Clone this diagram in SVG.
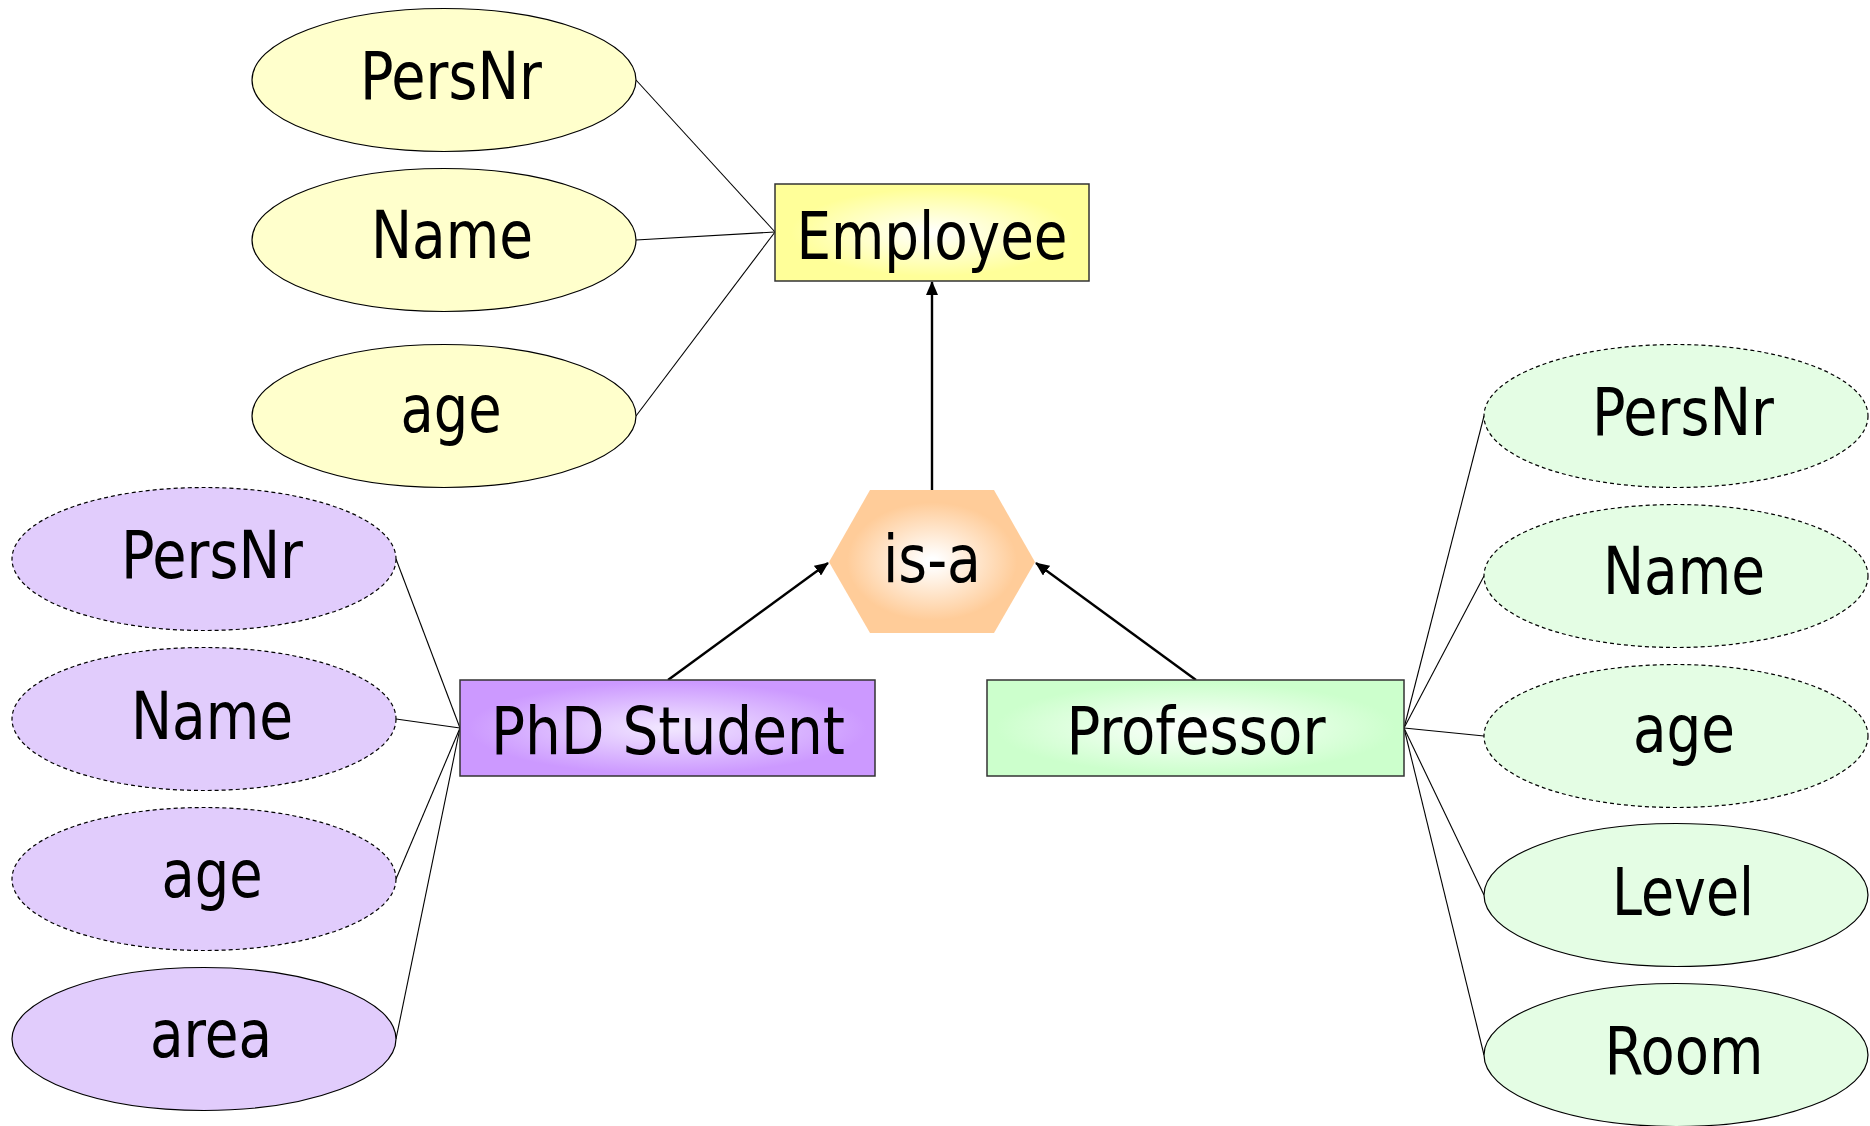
<svg xmlns="http://www.w3.org/2000/svg" width="1870" height="1126" viewBox="0 0 1870 1126">
<style>
text{font-family:"DejaVu Sans Condensed","DejaVu Sans",sans-serif;font-stretch:condensed;font-size:66px;fill:#000;text-anchor:middle}
.y{fill:#FFFFCC;stroke:#000;stroke-width:1.2}
.p{fill:#E1CCFC;stroke:#000;stroke-width:1.2}
.g{fill:#E4FDE4;stroke:#000;stroke-width:1.2}
.d{stroke-dasharray:4 3}
.ln{stroke:#000;stroke-width:1.1;fill:none}
.ar{stroke:#000;stroke-width:2.4;fill:none;marker-end:url(#ah)}
.box{stroke:#333;stroke-width:1.5}
</style>
<defs>
<marker id="ah" markerUnits="userSpaceOnUse" markerWidth="14" markerHeight="12" refX="13" refY="6" orient="auto" viewBox="0 0 14 12">
<path d="M0,0 L14,6 L0,12 z" fill="#000"/>
</marker>
<radialGradient id="gy" cx="50%" cy="50%" r="60%"><stop offset="0" stop-color="#FFFFFF"/><stop offset="0.75" stop-color="#FFFF99"/></radialGradient>
<radialGradient id="gp" cx="50%" cy="50%" r="60%"><stop offset="0" stop-color="#F2E8FF"/><stop offset="0.8" stop-color="#CC99FF"/></radialGradient>
<radialGradient id="gg" cx="50%" cy="50%" r="60%"><stop offset="0" stop-color="#FFFFFF"/><stop offset="0.8" stop-color="#CCFFCC"/></radialGradient>
<radialGradient id="go" cx="50%" cy="50%" r="55%"><stop offset="0.05" stop-color="#FFFFFF"/><stop offset="0.75" stop-color="#FFCC99"/></radialGradient>
</defs>

<g id="connectors">
<line class="ln" x1="636" y1="80" x2="775" y2="232"/>
<line class="ln" x1="636" y1="240" x2="775" y2="232"/>
<line class="ln" x1="636" y1="416" x2="775" y2="232"/>
<line class="ln" x1="396" y1="559" x2="460" y2="728"/>
<line class="ln" x1="396" y1="719" x2="460" y2="728"/>
<line class="ln" x1="396" y1="879" x2="460" y2="728"/>
<line class="ln" x1="396" y1="1039" x2="460" y2="728"/>
<line class="ln" x1="1404" y1="728" x2="1484" y2="416"/>
<line class="ln" x1="1404" y1="728" x2="1484" y2="576"/>
<line class="ln" x1="1404" y1="728" x2="1484" y2="736"/>
<line class="ln" x1="1404" y1="728" x2="1484" y2="895"/>
<line class="ln" x1="1404" y1="728" x2="1484" y2="1055"/>
<line class="ar" x1="932" y1="490" x2="932" y2="282"/>
<line class="ar" x1="668" y1="680" x2="828" y2="563"/>
<line class="ar" x1="1196" y1="680" x2="1036" y2="563"/>
</g>

<g id="emp-persnr"><ellipse class="y" cx="444" cy="80" rx="192" ry="71.5"/><text x="451" y="99" textLength="182" lengthAdjust="spacingAndGlyphs">PersNr</text></g>
<g id="emp-name"><ellipse class="y" cx="444" cy="240" rx="192" ry="71.5"/><text x="452" y="258" textLength="162" lengthAdjust="spacingAndGlyphs">Name</text></g>
<g id="emp-age"><ellipse class="y" cx="444" cy="416" rx="192" ry="71.5"/><text x="451" y="432" textLength="101" lengthAdjust="spacingAndGlyphs">age</text></g>
<g id="employee"><rect class="box" x="775" y="184" width="314" height="97" fill="url(#gy)"/><text x="932" y="259" textLength="271" lengthAdjust="spacingAndGlyphs">Employee</text></g>

<g id="isa"><polygon points="829,562 870,490 994,490 1035,562 994,633 870,633" fill="url(#go)"/><text x="932" y="582" textLength="98" lengthAdjust="spacingAndGlyphs">is-a</text></g>

<g id="phd-persnr"><ellipse class="p d" cx="204" cy="559" rx="192" ry="71.5"/><text x="212" y="578" textLength="182" lengthAdjust="spacingAndGlyphs">PersNr</text></g>
<g id="phd-name"><ellipse class="p d" cx="204" cy="719" rx="192" ry="71.5"/><text x="212" y="739" textLength="162" lengthAdjust="spacingAndGlyphs">Name</text></g>
<g id="phd-age"><ellipse class="p d" cx="204" cy="879" rx="192" ry="71.5"/><text x="212" y="897" textLength="101" lengthAdjust="spacingAndGlyphs">age</text></g>
<g id="phd-area"><ellipse class="p" cx="204" cy="1039" rx="192" ry="71.5"/><text x="211" y="1057" textLength="122" lengthAdjust="spacingAndGlyphs">area</text></g>
<g id="phd"><rect class="box" x="460" y="680" width="415" height="96" fill="url(#gp)"/><text x="668" y="754" textLength="354" lengthAdjust="spacingAndGlyphs">PhD Student</text></g>

<g id="professor"><rect class="box" x="987" y="680" width="417" height="96" fill="url(#gg)"/><text x="1196" y="754" textLength="259" lengthAdjust="spacingAndGlyphs">Professor</text></g>
<g id="prof-persnr"><ellipse class="g d" cx="1676" cy="416" rx="192" ry="71.5"/><text x="1683" y="435" textLength="182" lengthAdjust="spacingAndGlyphs">PersNr</text></g>
<g id="prof-name"><ellipse class="g d" cx="1676" cy="576" rx="192" ry="71.5"/><text x="1684" y="594" textLength="162" lengthAdjust="spacingAndGlyphs">Name</text></g>
<g id="prof-age"><ellipse class="g d" cx="1676" cy="736" rx="192" ry="71.5"/><text x="1684" y="752" textLength="102" lengthAdjust="spacingAndGlyphs">age</text></g>
<g id="prof-level"><ellipse class="g" cx="1676" cy="895" rx="192" ry="71.5"/><text x="1683" y="915" textLength="142" lengthAdjust="spacingAndGlyphs">Level</text></g>
<g id="prof-room"><ellipse class="g" cx="1676" cy="1055" rx="192" ry="71.5"/><text x="1684" y="1074" textLength="159" lengthAdjust="spacingAndGlyphs">Room</text></g>
</svg>
